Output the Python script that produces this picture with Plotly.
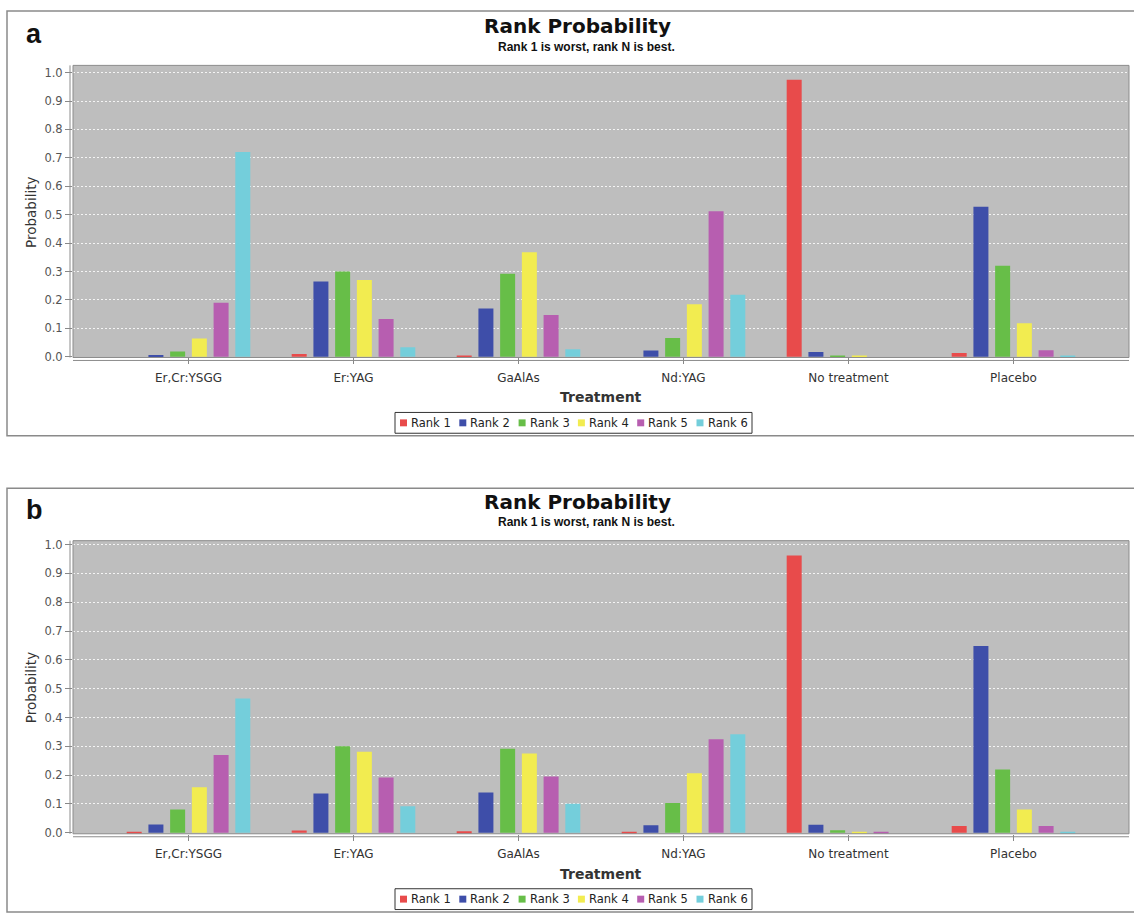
import plotly.graph_objects as go

W, H = 1134, 919

treatments = ["Er,Cr:YSGG", "Er:YAG", "GaAlAs", "Nd:YAG", "No treatment", "Placebo"]
rank_names = ["Rank 1", "Rank 2", "Rank 3", "Rank 4", "Rank 5", "Rank 6"]
rank_colors = ["#E84B4B", "#3E4EA9", "#67BE48", "#F2EC50", "#B75EB0", "#74CEDB"]

# Panel a: probability of each rank per treatment (rows = ranks 1..6)
probs_a = [
    [0.000, 0.010, 0.003, 0.000, 0.975, 0.013],
    [0.006, 0.265, 0.170, 0.022, 0.017, 0.528],
    [0.019, 0.300, 0.292, 0.066, 0.005, 0.320],
    [0.064, 0.270, 0.368, 0.185, 0.002, 0.118],
    [0.190, 0.133, 0.147, 0.512, 0.000, 0.023],
    [0.721, 0.034, 0.027, 0.218, 0.000, 0.002],
]

# Panel b
probs_b = [
    [0.002, 0.008, 0.005, 0.002, 0.962, 0.024],
    [0.029, 0.136, 0.140, 0.026, 0.028, 0.648],
    [0.081, 0.300, 0.292, 0.103, 0.009, 0.220],
    [0.158, 0.281, 0.275, 0.207, 0.003, 0.081],
    [0.270, 0.192, 0.195, 0.325, 0.002, 0.024],
    [0.466, 0.092, 0.101, 0.342, 0.000, 0.004],
]

y_ticks = [0.0, 0.1, 0.2, 0.3, 0.4, 0.5, 0.6, 0.7, 0.8, 0.9, 1.0]
y_tick_text = ["0.0", "0.1", "0.2", "0.3", "0.4", "0.5", "0.6", "0.7", "0.8", "0.9", "1.0"]


def fx(px):
    return px / W


def fy(py):
    return 1 - py / H


TICK_FONT = dict(family="DejaVu Sans", size=11.5, color="#555555")
CAT_FONT = dict(family="DejaVu Sans", size=12, color="#333333")

fig = go.Figure()

panels = [
    dict(data=probs_a, xa="x", ya="y", label="a",
         frame=(7, 8, 1145, 437), plot=(73, 63, 1129, 358), yrange=[-0.0024, 1.0254],
         title_y=23, sub_y=44, label_y=31, ytitle_y=212, xtitle_y=398, legend_y=424),
    dict(data=probs_b, xa="x2", ya="y2", label="b",
         frame=(7, 490, 1145, 918), plot=(73, 543, 1129, 839), yrange=[-0.0034, 1.0137],
         title_y=504, sub_y=524, label_y=512, ytitle_y=692, xtitle_y=880, legend_y=905),
]

shapes = []
annotations = []
layout_axes = {}

for idx, p in enumerate(panels):
    suffix = "" if idx == 0 else str(idx + 1)
    for r in range(6):
        fig.add_trace(go.Bar(
            x=treatments, y=p["data"][r], name=rank_names[r],
            marker=dict(color=rank_colors[r], line=dict(width=0)),
            xaxis=p["xa"], yaxis=p["ya"], showlegend=False,
        ))

    x0, y0, x1, y1 = p["plot"]
    layout_axes["xaxis" + suffix] = dict(
        domain=[fx(x0), fx(x1)], anchor=p["ya"], range=[-0.70, 5.70],
        type="category", showgrid=False, zeroline=False, showline=False,
        ticks="outside", ticklen=6, tickcolor="#888888", tickwidth=1,
        tickfont=CAT_FONT, ticklabelstandoff=3,
    )
    layout_axes["yaxis" + suffix] = dict(
        domain=[fy(y1), fy(y0)], anchor=p["xa"], range=p["yrange"],
        tickvals=y_ticks, ticktext=y_tick_text, tickfont=TICK_FONT,
        ticks="outside", ticklen=7, tickcolor="#888888", tickwidth=1,
        showgrid=True, gridcolor="#F4F4F4", gridwidth=1, griddash="2px,2px",
        zeroline=False, showline=False,
    )

    # outer frame of the panel
    fx0, fy0, fx1, fy1 = p["frame"]
    shapes.append(dict(type="rect", xref="paper", yref="paper",
                       x0=fx(fx0), x1=fx(fx1), y0=fy(fy1), y1=fy(fy0),
                       line=dict(color="#8A8A8A", width=1.5), layer="below"))
    # plot area border
    shapes.append(dict(type="rect", xref="paper", yref="paper",
                       x0=fx(x0), x1=fx(x1), y0=fy(y1), y1=fy(y0),
                       line=dict(color="#8C8C8C", width=1), layer="above"))
    # offset axis lines
    shapes.append(dict(type="line", xref="paper", yref="paper",
                       x0=fx(70), x1=fx(70), y0=fy(y1), y1=fy(y0),
                       line=dict(color="#8C8C8C", width=1)))
    shapes.append(dict(type="line", xref="paper", yref="paper",
                       x0=fx(x0), x1=fx(x1), y0=fy(y1 + 3), y1=fy(y1 + 3),
                       line=dict(color="#8C8C8C", width=1)))

    # panel letter
    annotations.append(dict(text=p["label"], x=fx(24), y=fy(p["label_y"]),
                            xref="paper", yref="paper", xanchor="left", yanchor="middle",
                            showarrow=False,
                            font=dict(family="Liberation Sans", size=27, color="#111111",
                                      weight="bold")))
    # title and subtitle
    annotations.append(dict(text="<b>Rank Probability</b>", x=fx(577), y=fy(p["title_y"]),
                            xref="paper", yref="paper", xanchor="center", yanchor="middle",
                            showarrow=False,
                            font=dict(family="DejaVu Sans", size=20, color="#111111")))
    annotations.append(dict(text="<b>Rank 1 is worst, rank N is best.</b>", x=fx(586),
                            y=fy(p["sub_y"]), xref="paper", yref="paper",
                            xanchor="center", yanchor="middle", showarrow=False,
                            font=dict(family="Liberation Sans", size=12, color="#111111")))
    # axis titles
    annotations.append(dict(text="Probability", x=fx(31), y=fy(p["ytitle_y"]),
                            xref="paper", yref="paper", xanchor="center", yanchor="middle",
                            textangle=-90, showarrow=False,
                            font=dict(family="DejaVu Sans", size=13.5, color="#333333")))
    annotations.append(dict(text="Treatment", x=fx(601), y=fy(p["xtitle_y"]),
                            xref="paper", yref="paper", xanchor="center", yanchor="middle",
                            showarrow=False,
                            font=dict(family="DejaVu Sans", size=14, color="#333333",
                                      weight="bold")))

    # legend box with colour keys
    ly = p["legend_y"]
    shapes.append(dict(type="rect", xref="paper", yref="paper",
                       x0=fx(395), x1=fx(752), y0=fy(ly + 10.5), y1=fy(ly - 10.5),
                       line=dict(color="#333333", width=1), fillcolor="white"))
    for r in range(6):
        sx = 400 + r * 59.3
        shapes.append(dict(type="rect", xref="paper", yref="paper",
                           x0=fx(sx), x1=fx(sx + 7), y0=fy(ly + 3.5), y1=fy(ly - 3.5),
                           line=dict(width=0), fillcolor=rank_colors[r]))
        annotations.append(dict(text=rank_names[r], x=fx(sx + 9), y=fy(ly),
                                xref="paper", yref="paper", xanchor="left", yanchor="middle",
                                showarrow=False,
                                font=dict(family="DejaVu Sans", size=11.5, color="#222222")))

fig.update_layout(
    width=W, height=H,
    margin=dict(l=0, r=0, t=0, b=0),
    paper_bgcolor="white",
    barmode="group", bargap=0.21, bargroupgap=0.31,
    shapes=shapes, annotations=annotations,
    **layout_axes,
)
fig.update_layout(plot_bgcolor="#BEBEBE")

fig.write_html("out.html")
